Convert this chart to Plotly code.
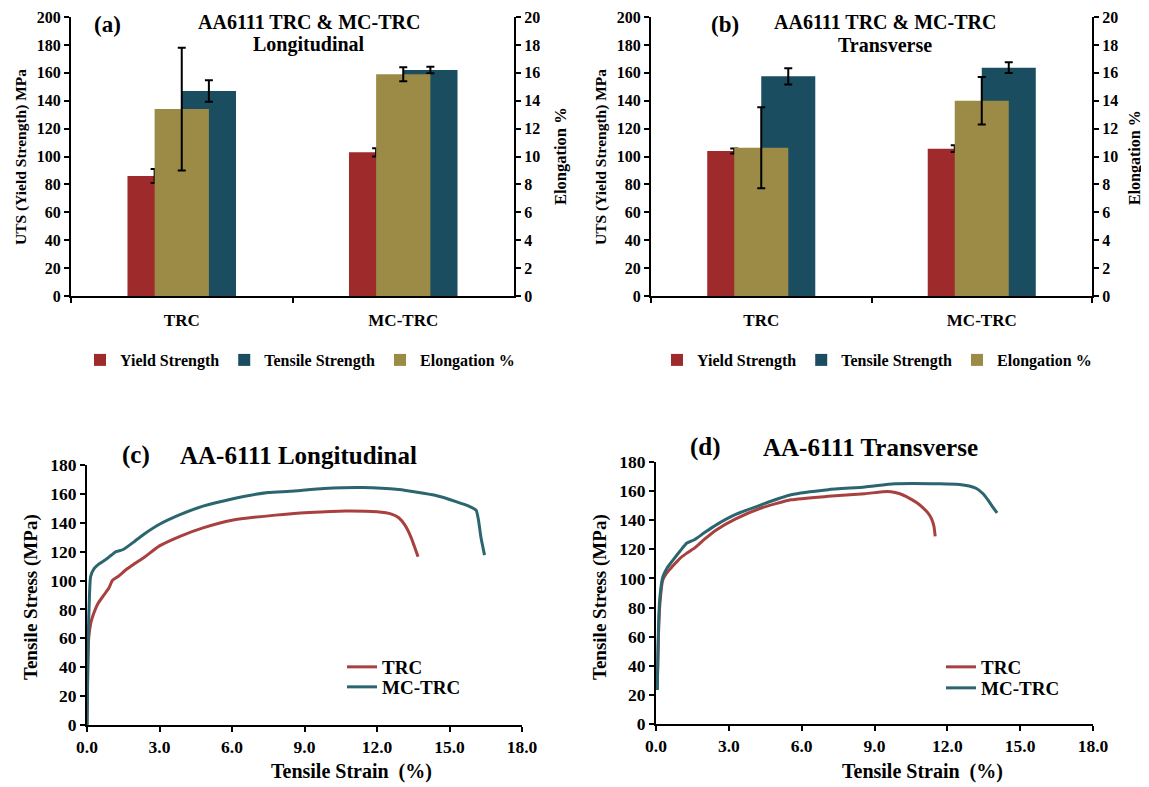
import plotly.graph_objects as go

# ---------------- data ----------------
categories = ["TRC", "MC-TRC"]

# (a) Longitudinal
a_yield = [86, 103]
a_yield_err = [5, 3]
a_tensile = [147, 162]
a_tensile_err = [7.7, 2.4]
a_elong = [13.4, 15.9]
a_elong_err = [4.4, 0.5]

# (b) Transverse
b_yield = [104, 105.6]
b_yield_err = [1.8, 2.4]
b_tensile = [157.5, 163.7]
b_tensile_err = [5.8, 3.8]
b_elong = [10.63, 14.0]
b_elong_err = [2.9, 1.7]

# (c) Longitudinal stress-strain
c_trc_strain = [0, 0.03, 0.075, 0.15, 0.23, 0.45, 0.7, 0.9, 1.05, 1.3, 1.65, 2.0, 2.4, 3.0, 3.9, 4.8, 6.0, 7.8, 9.2, 10.7, 12.0, 12.6, 12.9, 13.15, 13.4, 13.7]
c_trc_stress = [0, 40, 61, 70, 75, 84, 90, 94.6, 100, 103, 108, 112, 116.5, 124, 131, 136.5, 141.8, 145.3, 147.1, 148.2, 147.6, 146, 143.5, 138.5, 130.3, 116.5]
c_mc_strain = [0, 0.05, 0.1, 0.15, 0.3, 0.5, 0.75, 1.0, 1.2, 1.5, 2.0, 2.4, 3.0, 3.9, 4.8, 6.0, 7.5, 8.4, 9.8, 11.4, 12.9, 14.4, 15.3, 15.8, 16.1, 16.2, 16.3, 16.45]
c_mc_stress = [0, 60, 89, 102.7, 108.4, 111.5, 114.2, 117.5, 120, 121.5, 127.5, 132.6, 139, 146, 151.5, 156.5, 161, 161.8, 163.7, 164.4, 163, 159, 154.5, 151.5, 148.7, 141.8, 130, 117.6]

# (d) Transverse stress-strain
d_trc_strain = [0.05, 0.1, 0.15, 0.28, 0.45, 0.66, 1.0, 1.27, 1.58, 2.0, 2.5, 3.26, 4.33, 5.56, 7.09, 8.6, 9.54, 9.85, 10.15, 10.5, 10.76, 11.0, 11.2, 11.35, 11.45, 11.5]
d_trc_stress = [23.4, 60, 80, 99, 104, 108, 114, 117.4, 120.8, 127, 133.5, 140.8, 148.4, 154, 156.4, 158.2, 159.8, 159, 157.5, 154.5, 151.8, 148.5, 145, 141, 135.7, 128.9]
d_mc_strain = [0.05, 0.1, 0.15, 0.28, 0.45, 0.66, 1.0, 1.27, 1.58, 2.0, 2.5, 3.26, 4.33, 5.56, 7.09, 8.6, 9.84, 11.68, 12.5, 12.9, 13.2, 13.45, 13.67, 13.85, 14.05]
d_mc_stress = [23.4, 65, 85, 101, 107, 111.7, 119, 124.3, 126.6, 131.5, 137, 143.8, 150.6, 157.5, 161, 162.8, 165, 165, 164.5, 163.5, 161.8, 158.5, 154, 149.5, 145]

# ---------------- style ----------------
OFF = 8  # page body margin of the browser
W, H = 1149 - OFF, 787 - OFF
FONT = "Liberation Serif"
RED = "#9e2a2b"
TEAL = "#1a4d5f"
OLIVE = "#9b8b46"
LINE_RED = "#a8403f"
LINE_TEAL = "#2b6570"
BW = 0.245


def px(x):
    return (x - OFF) / W


def py(y):
    return 1 - (y - OFF) / H


def f(size):
    return dict(family=FONT, size=size, color="black", weight="bold")


fig = go.Figure()


def err(vals):
    return dict(type="data", array=vals, visible=True, color="black", thickness=2, width=4)


def add_bars(xa, ya, ya2, legend, yv, ye, tv, te, ev, ee):
    fig.add_trace(go.Bar(x=categories, y=yv, name="Yield Strength", marker_color=RED,
                         offset=-BW, width=BW, error_y=err(ye), xaxis=xa, yaxis=ya, legend=legend))
    fig.add_trace(go.Bar(x=categories, y=tv, name="Tensile Strength", marker_color=TEAL,
                         offset=0, width=BW, error_y=err(te), xaxis=xa, yaxis=ya, legend=legend))
    fig.add_trace(go.Bar(x=categories, y=ev, name="Elongation %", marker_color=OLIVE,
                         offset=-BW / 2, width=BW, error_y=err(ee), xaxis=xa, yaxis=ya2, legend=legend))


add_bars("x", "y", "y2", "legend", a_yield, a_yield_err, a_tensile, a_tensile_err, a_elong, a_elong_err)
add_bars("x2", "y3", "y4", "legend2", b_yield, b_yield_err, b_tensile, b_tensile_err, b_elong, b_elong_err)

for xa, ya, lg1, lg2, (s1, v1), (s2, v2) in [
    ("x3", "y5", "legend3", "legend5", (c_trc_strain, c_trc_stress), (c_mc_strain, c_mc_stress)),
    ("x4", "y6", "legend4", "legend6", (d_trc_strain, d_trc_stress), (d_mc_strain, d_mc_stress)),
]:
    fig.add_trace(go.Scatter(x=s1, y=v1, mode="lines", name="TRC",
                             line=dict(color=LINE_RED, width=3, shape="spline", smoothing=0.5),
                             xaxis=xa, yaxis=ya, legend=lg1))
    fig.add_trace(go.Scatter(x=s2, y=v2, mode="lines", name="MC-TRC",
                             line=dict(color=LINE_TEAL, width=3, shape="spline", smoothing=0.5),
                             xaxis=xa, yaxis=ya, legend=lg2))

axis_common = dict(showline=True, linecolor="black", linewidth=2, showgrid=False, zeroline=False,
                   ticks="outside", ticklen=5, tickwidth=2, tickcolor="black", automargin=False,
                   ticklabeloverflow="allow")

dom_a = [px(71), px(514)]
dom_b = [px(651), px(1092)]
dom_top = [py(296), py(17)]
dom_c = [px(87), px(522)]
dom_d = [px(656), px(1093)]
dom_bot_c = [py(725), py(465)]
dom_bot_d = [py(724), py(462)]

cat_axis = dict(axis_common, type="category", tickson="boundaries", tickfont=f(17),
                ticklabelstandoff=8, range=[-0.5, 1.5])
left_bar = dict(axis_common, range=[0, 200], dtick=20, tickfont=f(16))
right_bar = dict(axis_common, range=[0, 20], dtick=2, tickfont=f(16), side="right")
strain_axis = dict(axis_common, range=[0, 18], dtick=3, tickformat=".1f", tickfont=f(17.5))
stress_axis = dict(axis_common, range=[0, 180], dtick=20, tickfont=f(17.5))


def leg_h(xc):
    return dict(orientation="h", x=px(xc), xanchor="center", y=py(360), yanchor="middle",
                font=f(16), itemwidth=30, bgcolor="rgba(0,0,0,0)")


def leg_v(xl, yc):
    return dict(x=px(xl), xanchor="left", y=py(yc), yanchor="middle", font=f(19),
                itemwidth=30, bgcolor="rgba(0,0,0,0)")


fig.update_layout(
    template="none",
    width=W, height=H, autosize=False,
    margin=dict(l=0, r=0, t=0, b=0, pad=0),
    paper_bgcolor="white", plot_bgcolor="white",
    barmode="overlay",
    xaxis=dict(cat_axis, domain=dom_a, anchor="y"),
    yaxis=dict(left_bar, domain=dom_top, anchor="x"),
    yaxis2=dict(right_bar, overlaying="y", anchor="x"),
    xaxis2=dict(cat_axis, domain=dom_b, anchor="y3"),
    yaxis3=dict(left_bar, domain=dom_top, anchor="x2"),
    yaxis4=dict(right_bar, overlaying="y3", anchor="x2"),
    xaxis3=dict(strain_axis, domain=dom_c, anchor="y5"),
    yaxis5=dict(stress_axis, domain=dom_bot_c, anchor="x3"),
    xaxis4=dict(strain_axis, domain=dom_d, anchor="y6"),
    yaxis6=dict(stress_axis, domain=dom_bot_d, anchor="x4"),
    legend=leg_h(300),
    legend2=leg_h(877),
    legend3=leg_v(342, 667),
    legend5=leg_v(342, 687),
    legend4=leg_v(941, 667),
    legend6=leg_v(941, 688),
)

annots = [
    ("(a)", 107, 24, 23, 0),
    ("AA6111 TRC & MC-TRC", 309, 22, 20, 0),
    ("Longitudinal", 309, 45, 20, 0),
    ("(b)", 725, 24, 23, 0),
    ("AA6111 TRC & MC-TRC", 885, 22, 20, 0),
    ("Transverse", 885, 45, 20, 0),
    ("(c)", 136, 455, 25, 0),
    ("AA-6111 Longitudinal", 298, 455, 25, 0),
    ("(d)", 705, 447, 25, 0),
    ("AA-6111 Transverse", 871, 447, 25, 0),
    ("UTS (Yield Strength) MPa", 21, 157, 15.5, -90),
    ("Elongation %", 561, 156, 16.5, -90),
    ("UTS (Yield Strength) MPa", 601, 157, 15.5, -90),
    ("Elongation %", 1135, 158, 16, -90),
    ("Tensile Stress (MPa)", 31, 597, 19, -90),
    ("Tensile Strain\u00a0 (%)", 352, 771, 20, 0),
    ("Tensile Stress (MPa)", 600, 597, 19, -90),
    ("Tensile Strain\u00a0 (%)", 922, 771, 20, 0),
]
for text, x, y, size, ang in annots:
    fig.add_annotation(text=text, x=px(x), y=py(y), xref="paper", yref="paper",
                       xanchor="center", yanchor="middle", showarrow=False,
                       font=f(size), textangle=ang)

fig.write_html("out.html")
